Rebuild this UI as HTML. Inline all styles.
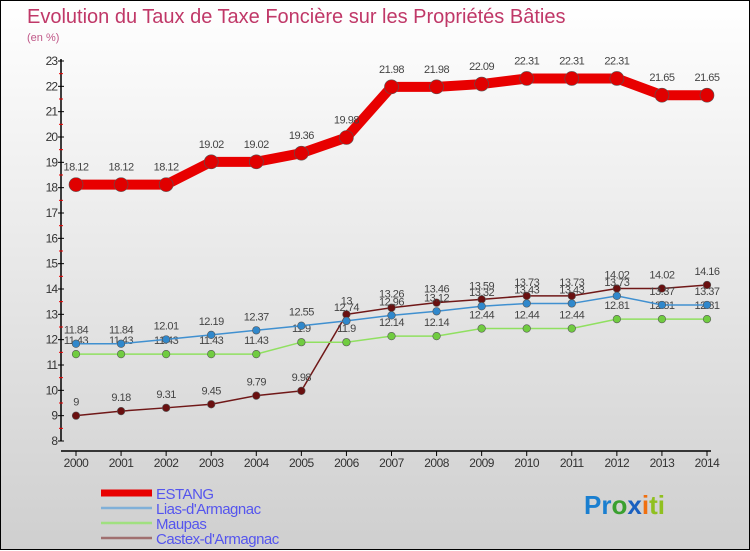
<!DOCTYPE html>
<html><head><meta charset="utf-8"><style>
body{margin:0;width:750px;height:550px;overflow:hidden}
#wrap{position:relative;width:748px;height:548px;border:1px solid #000;background:linear-gradient(#ffffff,#cfcfcf);font-family:"Liberation Sans",sans-serif}
svg{position:absolute;left:0;top:0}
</style></head><body>
<div id="wrap">
<svg id="chart" width="750" height="550">
<text x="26" y="22" font-size="20" fill="#c03868">Evolution du Taux de Taxe Foncière sur les Propriétés Bâties</text>
<text x="26" y="40" font-size="11" fill="#c05888">(en %)</text>
<g id="axes"></g><g id="series"></g>
<g id="legend"></g>
<text x="583" y="513" font-size="26" font-weight="bold"><tspan fill="#1a7fd0">Pr</tspan><tspan fill="#3aa030">o</tspan><tspan fill="#1a60c0">x</tspan><tspan fill="#f07010">i</tspan><tspan fill="#90c020">ti</tspan></text>
</svg>
</div>
<script>
const years=["2000","2001","2002","2003","2004","2005","2006","2007","2008","2009","2010","2011","2012","2013","2014"];
const yTicks=[8,9,10,11,12,13,14,15,16,17,18,19,20,21,22,23];
const estang=[18.12,18.12,18.12,19.02,19.02,19.36,19.98,21.98,21.98,22.09,22.31,22.31,22.31,21.65,21.65];
const lias=[11.84,11.84,12.01,12.19,12.37,12.55,12.74,12.96,13.12,13.32,13.43,13.43,13.73,13.37,13.37];
const maupas=[11.43,11.43,11.43,11.43,11.43,11.9,11.9,12.14,12.14,12.44,12.44,12.44,12.81,12.81,12.81];
const castex=[9,9.18,9.31,9.45,9.79,9.98,13,13.26,13.46,13.59,13.73,13.73,14.02,14.02,14.16];
const names=["ESTANG","Lias-d'Armagnac","Maupas","Castex-d'Armagnac"];
const NS="http://www.w3.org/2000/svg";
const xs=i=>75+i*(706-75)/(years.length-1);
const ys=v=>440-(v-8)*(380/15);
function mk(tag,attrs,parent,txt){const e=document.createElementNS(NS,tag);for(const k in attrs)e.setAttribute(k,attrs[k]);if(txt!==undefined)e.textContent=txt;parent.appendChild(e);return e;}
const ax=document.getElementById('axes');
let yl=mk('line',{x1:60,y1:58,x2:60,y2:440,stroke:'#000','stroke-width':1.5},ax);


let xl=mk('line',{x1:60,y1:450,x2:710,y2:450,stroke:'#000','stroke-width':1.5},ax);


yTicks.forEach(v=>{const y=ys(v);
 mk('line',{x1:57,y1:y,x2:63,y2:y,stroke:'#000'},ax);
 if(v<23)mk('line',{x1:58,y1:ys(v+0.5),x2:62,y2:ys(v+0.5),stroke:'#e00'},ax);
 const t=mk('text',{x:56,y:y+4,'font-size':12,'text-anchor':'end',fill:'#333','letter-spacing':'-1'},ax,String(v));
 
 });
years.forEach((yr,i)=>{const x=xs(i);
 mk('line',{x1:x,y1:450,x2:x,y2:455,stroke:'#000'},ax);
 const t=mk('text',{x:x,y:466,'font-size':12,'text-anchor':'middle',fill:'#333','letter-spacing':'-0.5'},ax,yr);
 
 });
const sg=document.getElementById('series');
const cfg=[[castex,'#701818','#6a1010',1.5,3.8],[maupas,'#90e060','#70cc40',1.5,3.8],[lias,'#4090d0','#3088cc',1.5,3.8],[estang,'#e80000','#e00000',10,7]];
const keys=['castex','maupas','lias','estang'];
cfg.forEach(([d,lc,dc,w,r],k)=>{
 const g=mk('g',{},sg);
 
 
 const pl=mk('polyline',{points:d.map((v,i)=>xs(i)+','+ys(v)).join(' '),fill:'none',stroke:lc,'stroke-width':w,'stroke-linejoin':'round'},g);
 
 
 d.forEach((v,i)=>{
  const c=mk('circle',{cx:xs(i),cy:ys(v),r:r,fill:dc,stroke:'#555','stroke-width':0.6},g);
  
  
  const t=mk('text',{x:xs(i),y:ys(v)-(w>5?14:10),'font-size':11,'text-anchor':'middle',fill:'#444','letter-spacing':'-0.5'},g,String(v));
  
  
 });
});
const lg=document.getElementById('legend');
const lcol=['#e80000','#80b0d8','#a0e080','#a07070'];
names.forEach((n,i)=>{const y=492+i*15;
 mk('line',{x1:100,y1:y,x2:151,y2:y,stroke:lcol[i],'stroke-width':i==0?7:2.5},lg);
 const t=mk('text',{x:155,y:y+6,'font-size':15,fill:'#5555ee','letter-spacing':'-0.5'},lg,n);
 
 });
</script>
</body></html>
